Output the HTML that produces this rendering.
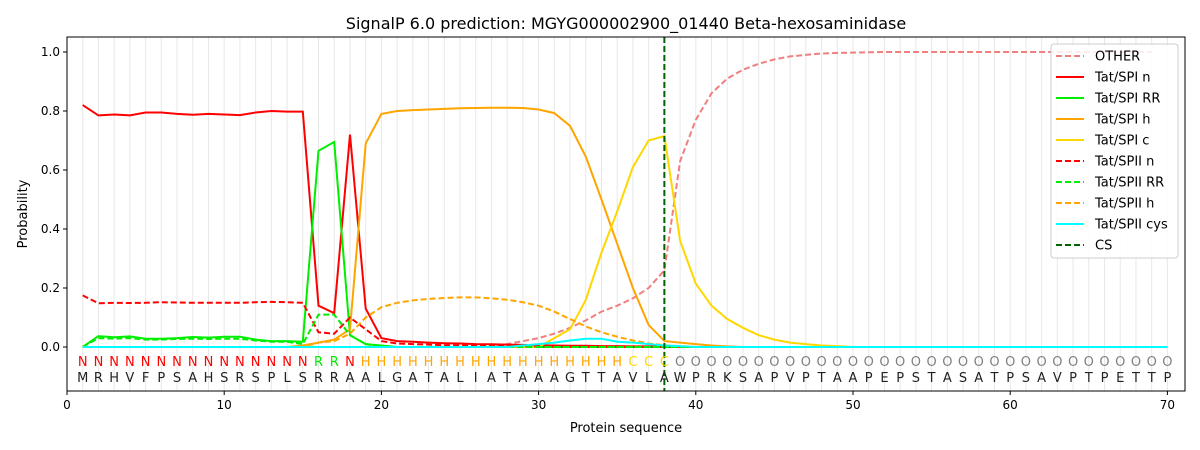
<!DOCTYPE html>
<html><head><meta charset="utf-8"><style>
body{margin:0;background:#fff}
svg{display:block;font-family:"DejaVu Sans","Liberation Sans",sans-serif}
</style></head><body>
<svg id="s" width="1200" height="450" xmlns="http://www.w3.org/2000/svg"></svg>
<script>
const X=i=>67+15.72*i, Y=p=>347-295*p;
let h='';
// gridlines
for(let i=1;i<=70;i++)h+=`<line x1="${X(i)}" y1="37" x2="${X(i)}" y2="391" stroke="#e8e8e8" stroke-width="1"/>`;
function z(n){return Array(n).fill(0)}
const other=[...z(27),0.01,0.02,0.03,0.045,0.065,0.09,0.12,0.14,0.165,0.2,0.26,0.63,0.77,0.86,0.91,0.94,0.96,0.975,0.985,0.99,0.995,0.997,0.998,0.999,...Array(18).fill(1)];
const spin=[0.82,0.785,0.788,0.785,0.795,0.795,0.79,0.787,0.79,0.788,0.786,0.795,0.8,0.798,0.798,0.14,0.115,0.72,0.13,0.03,0.02,0.018,0.015,0.013,0.012,0.01,0.009,0.008,0.007,0.006,0.005,0.004,0.004,0.003,0.003,0.002,0.002,0.001,...z(32)];
const sprr=[0,0.037,0.033,0.036,0.028,0.028,0.03,0.034,0.032,0.035,0.035,0.025,0.02,0.02,0.018,0.665,0.695,0.04,0.01,0.005,...z(50)];
const sph=[...z(14),0.005,0.015,0.025,0.06,0.69,0.79,0.8,0.803,0.805,0.807,0.809,0.81,0.811,0.811,0.81,0.805,0.793,0.75,0.645,0.5,0.35,0.2,0.075,0.02,0.015,0.01,0.005,0.002,...z(28)];
const spc=[...z(30),0.03,0.06,0.16,0.32,0.46,0.61,0.7,0.715,0.36,0.215,0.14,0.095,0.065,0.04,0.025,0.015,0.01,0.005,0.003,...z(21)];
const s2n=[0.175,0.148,0.15,0.149,0.15,0.152,0.151,0.15,0.15,0.15,0.15,0.152,0.153,0.152,0.15,0.05,0.045,0.1,0.06,0.02,0.012,0.01,0.008,0.006,0.005,0.004,0.003,0.003,0.002,0.002,0.001,...z(39)];
const s2rr=[0,0.03,0.028,0.03,0.025,0.025,0.027,0.028,0.027,0.028,0.028,0.022,0.018,0.018,0.01,0.11,0.11,0.04,0.01,...z(51)];
const s2h=[...z(15),0.015,0.02,0.045,0.1,0.135,0.15,0.158,0.163,0.166,0.168,0.168,0.165,0.16,0.152,0.14,0.12,0.095,0.07,0.05,0.035,0.022,0.012,0.006,0.003,...z(31)];
const cys=[...z(28),0.005,0.01,0.015,0.022,0.028,0.028,0.018,0.015,0.01,0.005,0.003,...z(31)];
function line(d,c,dash){return `<polyline fill="none" stroke="${c}" stroke-width="2" ${dash?'stroke-dasharray="6,3"':''} points="${d.slice(0,70).map((v,i)=>X(i+1).toFixed(1)+','+Y(v).toFixed(1)).join(' ')}"/>`}
h+=line(other,'#f08080',1)+line(spin,'#ff0000')+line(sprr,'#00ee00')+line(sph,'#ffa500')+line(spc,'#ffd700')+line(s2n,'#ff0000',1)+line(s2rr,'#00ee00',1)+line(s2h,'#ffa500',1)+line(cys,'#00ffff');
h+=`<line x1="${X(38)}" y1="37" x2="${X(38)}" y2="391" stroke="#006400" stroke-width="2" stroke-dasharray="6,3"/>`;
// letters
const seq="MRHVFPSAHSRSPLSRRAALGATALIATAAAGTTAVLAWPRKSAPVPTAAPEPSTASATPSAVPTPETTP";
for(let i=1;i<=70;i++){
 let l,c;
 if(i<=15){l='N';c='#ff0000'}else if(i<=17){l='R';c='#00ee00'}else if(i==18){l='N';c='#ff0000'}else if(i<=35){l='H';c='#ffa500'}else if(i<=38){l='C';c='#ffd700'}else{l='O';c='#808080'}
 h+=`<text x="${X(i)}" y="366" font-size="13" fill="${c}" text-anchor="middle">${l}</text>`;
 h+=`<text x="${X(i)}" y="382" font-size="13" fill="#222" text-anchor="middle">${seq[i-1]}</text>`;
}
// axes
h+=`<rect x="67" y="37" width="1118" height="354" fill="none" stroke="#000" stroke-width="1"/>`;
for(let k=0;k<=7;k++){const x=X(k*10);h+=`<line x1="${x}" y1="391" x2="${x}" y2="395" stroke="#000"/><text x="${x}" y="409" font-size="12" text-anchor="middle">${k*10}</text>`}
for(let k=0;k<=5;k++){const p=k*0.2,y=Y(p);h+=`<line x1="63" y1="${y}" x2="67" y2="${y}" stroke="#000"/><text x="60" y="${y+4}" font-size="12" text-anchor="end">${p.toFixed(1)}</text>`}
h+=`<text x="626" y="432" font-size="13" text-anchor="middle">Protein sequence</text>`;
h+=`<text transform="translate(27,214) rotate(-90)" font-size="13" text-anchor="middle">Probability</text>`;
h+=`<text x="626" y="29" font-size="16" text-anchor="middle">SignalP 6.0 prediction: MGYG000002900_01440 Beta-hexosaminidase</text>`;
// legend
h+=`<rect x="1051" y="44" width="127" height="214" rx="3" fill="#fff" fill-opacity="0.85" stroke="#ccc"/>`;
const leg=[['OTHER','#f08080',1],['Tat/SPI n','#ff0000'],['Tat/SPI RR','#00ee00'],['Tat/SPI h','#ffa500'],['Tat/SPI c','#ffd700'],['Tat/SPII n','#ff0000',1],['Tat/SPII RR','#00ee00',1],['Tat/SPII h','#ffa500',1],['Tat/SPII cys','#00ffff'],['CS','#006400',1]];
leg.forEach((e,j)=>{const y=56+j*21;h+=`<line x1="1056" y1="${y}" x2="1084" y2="${y}" stroke="${e[1]}" stroke-width="2" ${e[2]?'stroke-dasharray="6,3"':''}/><text x="1095" y="${y+4.5}" font-size="13">${e[0]}</text>`});
document.getElementById('s').innerHTML=h;
</script>
</body></html>
